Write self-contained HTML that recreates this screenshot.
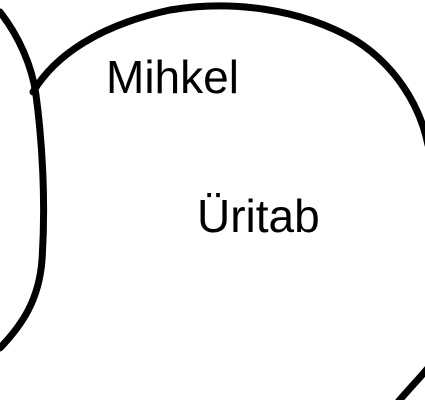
<!DOCTYPE html>
<html>
<head>
<meta charset="utf-8">
<style>
html,body{margin:0;padding:0;background:#fff;}
svg{display:block;}
text{font-family:"Liberation Sans",sans-serif;font-size:46px;fill:#000;}
</style>
</head>
<body>
<svg width="425" height="400" viewBox="0 0 425 400">
  <path d="M0,12 C18,35 32,65 36,95 C42,140 46,200 42,260 C39,300 22,325 0,348" fill="none" stroke="#000" stroke-width="7" stroke-linecap="round"/>
  <path d="M33,92 C55,55 100,25 170,10 C230,0 300,8 355,40 C395,65 420,105 428,145" fill="none" stroke="#000" stroke-width="7" stroke-linecap="round"/>
  <path d="M428,368 C418,380 408,390 398,402" fill="none" stroke="#000" stroke-width="7" stroke-linecap="round"/>
  <text x="106" y="93">Mihkel</text>
  <text x="197" y="232">Üritab</text>
</svg>
</body>
</html>
